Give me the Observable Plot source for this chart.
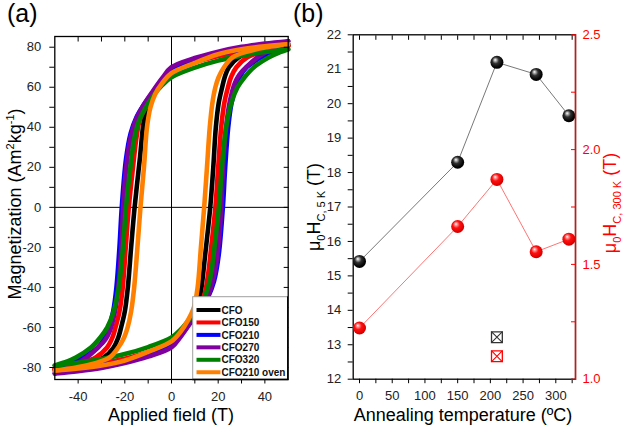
<!DOCTYPE html>
<html><head><meta charset="utf-8">
<script src="https://cdn.jsdelivr.net/npm/d3@7"></script>
<script src="https://cdn.jsdelivr.net/npm/@observablehq/plot@0.6"></script>
<style>
body{margin:0;background:#fff;}
#wrap{position:relative;width:627px;height:425px;overflow:hidden;background:#fff;}
#wrap > svg{position:absolute;}
</style></head><body><div id="wrap"></div>
<script>
// ---------- Panel (a) data: hysteresis loops [field (T), magnetization] ----------
const sampleNames = ["CFO","CFO150","CFO210","CFO270","CFO320","CFO210 oven"];
const cfoDesc = [[50,81],[40,79.8],[30,78.2],[20,76],[10,72.8],[0,68],[-4,63],[-8,56],[-10.5,50],[-12,42],[-13.5,25],[-15.8,0],[-17.3,-20],[-18.7,-40],[-20,-52],[-21.6,-60],[-22.8,-65],[-24.8,-70],[-29,-75],[-36,-78.2],[-44,-79.9],[-50,-81]];
const cfoAsc = [[-50,-81],[-40,-79.8],[-30,-78.2],[-20,-76],[-10,-72.8],[0,-68],[4,-63],[8,-56],[11,-50],[12.6,-42],[14.3,-25],[16.6,0],[17.9,20],[19,40],[20.2,52],[21.7,60],[22.8,65],[24.6,70],[28.8,75],[36,78.2],[44,79.9],[50,81]];
const cfo150Desc = [[50,80.5],[40,79.3],[30,77.8],[20,75.6],[10,72.4],[0,67.5],[-4,62.5],[-8,56],[-11,50],[-13.5,44],[-15,35],[-16.5,20],[-18.3,0],[-19.6,-20],[-20.9,-40],[-22.3,-52],[-24,-60],[-25.3,-65],[-27.6,-70],[-32.5,-75],[-39,-77.8],[-45,-79.3],[-50,-80.5]];
const cfo150Asc = [[-50,-80.5],[-40,-79.3],[-30,-77.8],[-20,-75.6],[-10,-72.4],[0,-67.5],[4,-62.5],[8,-56],[11.4,-50],[14,-44],[15.5,-35],[17,-20],[18.8,0],[20,20],[21.3,40],[22.6,52],[24.2,60],[25.5,65],[27.8,70],[32.5,75],[39,77.8],[45,79.3],[50,80.5]];
const cfo210Desc = [[50,81.5],[40,80.3],[30,78.8],[20,76.6],[10,73.4],[0,68.8],[-4,64],[-8,57.5],[-12,51],[-15,45],[-17.5,37],[-19.5,24],[-21.3,0],[-22.3,-20],[-23.6,-40],[-25,-52],[-26.8,-60],[-28.5,-65],[-31.5,-70],[-38,-75],[-44,-78.5],[-50,-81.5]];
const cfo210Asc = [[-50,-81.5],[-40,-80.3],[-30,-78.8],[-20,-76.6],[-10,-73.4],[0,-68.8],[4,-64],[8,-57.5],[12.5,-51],[15.6,-45],[18.2,-37],[20.2,-24],[22,0],[23,20],[24.3,40],[25.7,52],[27.5,60],[29.2,65],[32.2,70],[38.5,75],[44.5,78.5],[50,81.5]];
const cfo270Desc = [[50,83],[40,81.8],[30,80.2],[20,77.8],[10,74.6],[0,70],[-4,64.5],[-8,58],[-12,51],[-15.5,43],[-18,32],[-19.8,15],[-20.7,0],[-21.5,-20],[-22.8,-40],[-24.4,-53],[-26.5,-62],[-28.3,-66],[-31.5,-70],[-37,-75.5],[-43,-79.5],[-50,-83]];
const cfo270Asc = [[-50,-83],[-40,-81.8],[-30,-80.2],[-20,-77.8],[-10,-74.6],[0,-70],[4,-64.5],[8,-58],[12.6,-51],[16.1,-43],[18.6,-32],[20.4,-15],[21.3,0],[22.1,20],[23.4,40],[25,53],[27.1,62],[28.9,66],[32,70],[37.5,75.5],[43.5,79.5],[50,83]];
const cfo320Desc = [[50,79],[40,77.6],[30,75.8],[20,73.3],[10,69.8],[0,65],[-4,61],[-8,55.5],[-11,50],[-14,43],[-16,34],[-17.8,18],[-19.5,0],[-20.8,-20],[-22.6,-40],[-24.8,-52],[-27.5,-60],[-30.5,-65],[-34.5,-70],[-41,-75],[-46,-77.5],[-50,-79]];
const cfo320Asc = [[-50,-79],[-40,-77.6],[-30,-75.8],[-20,-73.3],[-10,-69.8],[0,-65],[4,-61],[8,-55.5],[11.8,-50],[14.8,-43],[16.8,-34],[18.6,-18],[20.3,0],[21.6,20],[23.4,40],[25.6,52],[28.3,60],[31.3,65],[35.3,70],[41.8,75],[46.5,77.5],[50,79]];
const ovenDesc = [[50,81.5],[40,80.5],[30,79],[20,76.5],[10,72.2],[0,67],[-4,62],[-7,56.5],[-9,50],[-10.5,40],[-11.8,20],[-13.3,0],[-14.6,-20],[-16,-40],[-17.3,-52],[-18.8,-60],[-20.3,-65],[-22.8,-70],[-26.5,-75],[-33,-78],[-41,-80],[-50,-81.5]];
const ovenAsc = [[-50,-81.5],[-40,-80.5],[-30,-79],[-20,-76.5],[-10,-72.2],[0,-67],[4,-62],[7,-56.5],[9.6,-50],[11.2,-40],[12.6,-20],[14,0],[15.2,20],[16.4,40],[17.5,52],[18.8,60],[20.2,65],[22.5,70],[26.3,75],[33,78],[41,80],[50,81.5]];

const fieldTicks = [-40,-30,-20,-10,0,10,20,30,40];
const fieldLabels = [-40,-20,0,20,40];
const magTicks = [-80,-70,-60,-50,-40,-30,-20,-10,0,10,20,30,40,50,60,70,80];
const magLabels = [-80,-60,-40,-20,0,20,40,60,80];

// ---------- Panel (b) data ----------
const temps = [0,150,210,270,320];
const hc5K = [15.42,18.30,21.20,20.85,19.65];
const hc300K = [1.223,1.665,1.87,1.555,1.61];
const ovenTemp = [210];
const ovenHc5K = [13.22];
const ovenHc300K = [1.10];

const tempTicks = [0,25,50,75,100,125,150,175,200,225,250,275,300,325];
const tempLabels = [0,50,100,150,200,250,300];
const hc5Ticks = [12,12.5,13,13.5,14,14.5,15,15.5,16,16.5,17,17.5,18,18.5,19,19.5,20,20.5,21,21.5,22];
const hc5Labels = [12,13,14,15,16,17,18,19,20,21,22];
const hc300Ticks = [1,1.25,1.5,1.75,2,2.25,2.5];
const hc300Labels = [1,1.5,2,2.5];

// ---------- styling ----------
const FONT = '"Liberation Sans", Arial, Helvetica, sans-serif';
const colors = ["#000000","#ff0000","#0000ff","#80009f","#008000","#ff8000"];
const branches = [[cfoDesc,cfoAsc],[cfo150Desc,cfo150Asc],[cfo210Desc,cfo210Asc],[cfo270Desc,cfo270Asc],[cfo320Desc,cfo320Asc],[ovenDesc,ovenAsc]];

const wrap = document.getElementById("wrap");
function place(svg, left, top){ svg.style.left = left+"px"; svg.style.top = top+"px"; wrap.appendChild(svg); return svg; }

// gradient defs for the shaded spheres
const defs = d3.create("svg").attr("width",0).attr("height",0).style("position","absolute");
const dd = defs.append("defs");
function grad(id, stops){
  const g = dd.append("radialGradient").attr("id",id).attr("cx",0.45).attr("cy",0.42).attr("r",0.6).attr("fx",0.36).attr("fy",0.3);
  stops.forEach(([o,c]) => g.append("stop").attr("offset",o).attr("stop-color",c));
}
grad("sphBlack", [[0,"#ffffff"],[0.16,"#b0b0b0"],[0.42,"#303030"],[0.8,"#050505"],[1,"#000000"]]);
grad("sphRed", [[0,"#ffffff"],[0.16,"#ff9a9a"],[0.45,"#ff1010"],[0.85,"#e00000"],[1,"#c00000"]]);
wrap.appendChild(defs.node());

// ---------- Panel (a) ----------
const curveMarks = branches.flatMap(([desc, asc], i) => [
  Plot.line(desc, {x: d => d[0], y: d => d[1], stroke: colors[i], strokeWidth: 4.6, curve: "catmull-rom"}),
  Plot.line(asc, {x: d => d[0], y: d => d[1], stroke: colors[i], strokeWidth: 4.6, curve: "catmull-rom"})
]);
const pa = Plot.plot({
  width: 300, height: 425,
  marginLeft: 54.3, marginRight: 12.3, marginTop: 36, marginBottom: 46,
  style: {fontFamily: FONT, fontSize: "13px", color: "#222", background: "transparent", overflow: "visible"},
  x: {domain: [-50, 50]},
  y: {domain: [-86, 85.35]},
  marks: [
    Plot.ruleX([0], {stroke: "#000", strokeWidth: 1}),
    Plot.ruleY([0], {stroke: "#000", strokeWidth: 1}),
    ...curveMarks,
    Plot.frame({stroke: "#000", strokeWidth: 1.3}),
    Plot.axisX({anchor: "bottom", ticks: fieldTicks, tickSize: 4.5, tickPadding: 7.5, tickFormat: d => fieldLabels.includes(d) ? String(d) : "", label: null, stroke: "#000"}),
    Plot.axisX({anchor: "top", ticks: fieldTicks, tickSize: -4.5, tickFormat: () => "", label: null, stroke: "#000"}),
    Plot.axisY({anchor: "left", ticks: magTicks, tickSize: 5, tickPadding: 8.5, tickFormat: d => magLabels.includes(d) ? String(d) : "", label: null, stroke: "#000"}),
    Plot.axisY({anchor: "right", ticks: magTicks, tickSize: -5, tickFormat: () => "", label: null, stroke: "#000"})
  ]
});
place(pa, 0, 0);

// ---------- Panel (b), left axis (5 K) ----------
const tbl5 = temps.map((t, i) => ({t, v: hc5K[i]}));
const tbl300 = temps.map((t, i) => ({t, v: hc300K[i]}));
const oven5 = ovenTemp.map((t, i) => ({t, v: ovenHc5K[i]}));
const oven300 = ovenTemp.map((t, i) => ({t, v: ovenHc300K[i]}));
const tempDomain = [-9.64, 330.1];
const pb = Plot.plot({
  width: 327, height: 425,
  marginLeft: 52.7, marginRight: 52, marginTop: 34.3, marginBottom: 46.3,
  style: {fontFamily: FONT, fontSize: "13px", color: "#222", background: "transparent", overflow: "visible"},
  x: {domain: tempDomain},
  y: {domain: [12, 22]},
  marks: [
    Plot.frame({stroke: "#000", strokeWidth: 1.3}),
    Plot.line(tbl5, {x: "t", y: "v", stroke: "#555", strokeWidth: 0.8}),
    Plot.dot(tbl5, {x: "t", y: "v", r: 6.5, fill: "url(#sphBlack)", stroke: "none"}),
    Plot.dot(oven5, {x: "t", y: "v", symbol: "square", r: 6.1, fill: "none", stroke: "#333", strokeWidth: 1.3}),
    Plot.dot(oven5, {x: "t", y: "v", symbol: "times", r: 5.1, stroke: "#333", strokeWidth: 1.1}),
    Plot.axisX({anchor: "bottom", ticks: tempTicks, tickSize: 4.5, tickPadding: 7, tickFormat: d => tempLabels.includes(d) ? String(d) : "", label: null, stroke: "#000"}),
    Plot.axisX({anchor: "top", ticks: tempTicks, tickSize: -4.5, tickFormat: () => "", label: null, stroke: "#000"}),
    Plot.axisY({anchor: "left", ticks: hc5Ticks, tickSize: 5, tickPadding: 7, tickFormat: d => hc5Labels.includes(d) ? String(d) : "", label: null, stroke: "#000"})
  ]
});
place(pb, 300, 0);

// ---------- Panel (b), right axis (300 K) ----------
const pr = Plot.plot({
  width: 327, height: 425,
  marginLeft: 52.7, marginRight: 52, marginTop: 34.3, marginBottom: 46.3,
  style: {fontFamily: FONT, fontSize: "13px", color: "#ff0000", background: "transparent", overflow: "visible"},
  x: {domain: tempDomain, axis: null},
  y: {domain: [1, 2.5]},
  marks: [
    Plot.frame({anchor: "right", stroke: "#ff0000", strokeWidth: 1.4}),
    Plot.line(tbl300, {x: "t", y: "v", stroke: "#ff5050", strokeWidth: 0.8}),
    Plot.dot(tbl300, {x: "t", y: "v", r: 6.5, fill: "url(#sphRed)", stroke: "none"}),
    Plot.dot(oven300, {x: "t", y: "v", symbol: "square", r: 6.1, fill: "none", stroke: "#ff0000", strokeWidth: 1.3}),
    Plot.dot(oven300, {x: "t", y: "v", symbol: "times", r: 5.1, stroke: "#ff0000", strokeWidth: 1.1}),
    Plot.axisY({anchor: "right", ticks: hc300Ticks, tickSize: -5, tickPadding: 12, tickFormat: d => hc300Labels.includes(d) ? d3.format(".1f")(d) : "", label: null, stroke: "#ff0000", fill: "#ff0000"})
  ]
});
place(pr, 300, 0);

// ---------- texts and legend ----------
const ov = d3.create("svg").attr("width", 627).attr("height", 425).style("left","0px").style("top","0px").style("pointer-events","none")
  .style("font-family", FONT);
ov.append("text").attr("x", 7).attr("y", 22).attr("font-size", 25).text("(a)");
ov.append("text").attr("x", 293).attr("y", 22).attr("font-size", 25).text("(b)");

ov.append("text").attr("x", 171).attr("y", 421).attr("text-anchor","middle").attr("font-size", 18).text("Applied field (T)");
ov.append("text").attr("x", 463).attr("y", 421).attr("text-anchor","middle").attr("font-size", 18).text("Annealing temperature (ºC)");

const my = ov.append("text").attr("transform","translate(21,204) rotate(-90)").attr("text-anchor","middle").attr("font-size", 18);
my.append("tspan").text("Magnetization (Am");
my.append("tspan").attr("dy", -7).attr("font-size", 11).text("2");
my.append("tspan").attr("dy", 7).text("kg");
my.append("tspan").attr("dy", -7).attr("font-size", 11).text("-1");
my.append("tspan").attr("dy", 7).text(")");

function hcLabel(x, y, sub, color){
  const t = ov.append("text").attr("transform", `translate(${x},${y}) rotate(-90)`).attr("text-anchor","middle").attr("font-size", 18).attr("fill", color);
  t.append("tspan").text("μ");
  t.append("tspan").attr("dy", 5).attr("font-size", 11).text("0");
  t.append("tspan").attr("dy", -5).text("H");
  t.append("tspan").attr("dy", 5).attr("font-size", 11).text(sub);
  t.append("tspan").attr("dy", -5).text(" (T)");
}
hcLabel(320, 207, "C, 5 K", "#000");
hcLabel(616, 203, "C, 300 K", "#ff0000");

// legend box
const lg = ov.append("g");
lg.append("rect").attr("x", 192.7).attr("y", 296.7).attr("width", 95).attr("height", 82.3).attr("fill", "#fff").attr("stroke", "#a0a0a0").attr("stroke-width", 1);
lg.append("path").attr("d", "M287.7,296.2V379.5H192.2").attr("fill","none").attr("stroke","#000").attr("stroke-width",1.3);
sampleNames.forEach((name, i) => {
  const y = 310 + i * 12.45;
  lg.append("line").attr("x1", 196.5).attr("x2", 220.5).attr("y1", y).attr("y2", y).attr("stroke", colors[i]).attr("stroke-width", 4);
  lg.append("text").attr("x", 221.5).attr("y", y + 3.6).attr("font-size", 10).attr("font-weight", "bold").attr("fill", "#111").text(name);
});
wrap.appendChild(ov.node());
</script>
</body></html>
